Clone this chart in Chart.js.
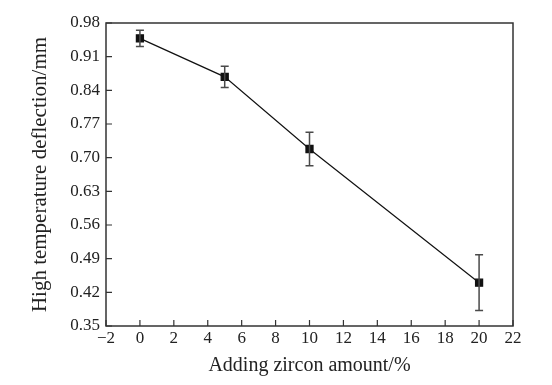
<!DOCTYPE html>
<html>
<head>
<meta charset="utf-8">
<script src="https://cdn.jsdelivr.net/npm/chart.js@4/dist/chart.umd.min.js"></script>
<style>
  html, body { margin: 0; padding: 0; background: #fff; }
  #wrap { width: 552px; height: 385px; }
</style>
</head>
<body>
<div id="wrap"><canvas id="deflectionChart"></canvas></div>
<script>
const zirconAmount = [0, 5, 10, 20];
const deflection = [0.948, 0.868, 0.718, 0.440];
const deflectionErr = [0.017, 0.022, 0.035, 0.058];
const xTicks = [-2, 0, 2, 4, 6, 8, 10, 12, 14, 16, 18, 20, 22];
const yTicks = [0.35, 0.42, 0.49, 0.56, 0.63, 0.70, 0.77, 0.84, 0.91, 0.98];

const serif = 'Liberation Serif';

// error bars, inward ticks and the frame box
const framePlugin = {
    id: 'framePlugin',
    afterDatasetsDraw(chart) {
        const { ctx, chartArea, scales } = chart;
        const x = scales.x, y = scales.y;
        ctx.save();
        // error bars
        ctx.strokeStyle = '#4a4a4a';
        ctx.lineWidth = 1.5;
        zirconAmount.forEach((v, i) => {
            const px = x.getPixelForValue(v);
            const top = y.getPixelForValue(deflection[i] + deflectionErr[i]);
            const bot = y.getPixelForValue(deflection[i] - deflectionErr[i]);
            ctx.beginPath();
            ctx.moveTo(px, top); ctx.lineTo(px, bot);
            ctx.moveTo(px - 4, top); ctx.lineTo(px + 4, top);
            ctx.moveTo(px - 4, bot); ctx.lineTo(px + 4, bot);
            ctx.stroke();
        });
        // frame
        ctx.strokeStyle = '#333';
        ctx.lineWidth = 1.5;
        ctx.strokeRect(chartArea.left, chartArea.top,
            chartArea.right - chartArea.left, chartArea.bottom - chartArea.top);
        // inward ticks
        ctx.lineWidth = 1.2;
        ctx.beginPath();
        x.ticks.forEach((t, i) => {
            const px = x.getPixelForTick(i);
            ctx.moveTo(px, chartArea.bottom);
            ctx.lineTo(px, chartArea.bottom - 6);
        });
        y.ticks.forEach((t, i) => {
            const py = y.getPixelForTick(i);
            ctx.moveTo(chartArea.left, py);
            ctx.lineTo(chartArea.left + 6, py);
        });
        ctx.stroke();
        ctx.restore();
    }
};

const ctx = document.getElementById('deflectionChart').getContext('2d');
const deflectionChart = new Chart(ctx, {
    type: 'line',
    data: {
        datasets: [
            {
                label: 'deflection',
                data: zirconAmount.map((v, i) => ({ x: v, y: deflection[i] })),
                borderColor: '#111',
                backgroundColor: '#111',
                borderWidth: 1.2,
                pointStyle: 'rect',
                pointRadius: 5,
                pointHoverRadius: 5,
                tension: 0
            }
        ]
    },
    options: {
        responsive: true,
        maintainAspectRatio: false,
        animation: false,
        events: [],
        layout: {
            padding: { top: 23, right: 39, left: 0, bottom: 0 }
        },
        scales: {
            x: {
                type: 'linear',
                min: -2,
                max: 22,
                afterBuildTicks: (scale) => { scale.ticks = xTicks.map(v => ({ value: v })); },
                afterFit: (scale) => { scale.height = 59; },
                grid: { display: false, drawTicks: false },
                border: { display: false },
                title: {
                    display: true,
                    text: 'Adding zircon amount/%',
                    color: '#222',
                    padding: { top: 0, bottom: 7 },
                    font: { size: 20, family: serif }
                },
                ticks: {
                    color: '#222',
                    padding: 2,
                    maxRotation: 0,
                    autoSkip: false,
                    callback: (v) => String(v).replace('-', '\u2212'),
                    font: { size: 17, family: serif }
                }
            },
            y: {
                min: 0.35,
                max: 0.98,
                afterBuildTicks: (scale) => { scale.ticks = yTicks.map(v => ({ value: v })); },
                afterFit: (scale) => { scale.width = 106; },
                grid: { display: false, drawTicks: false },
                border: { display: false },
                title: {
                    display: true,
                    text: 'High temperature deflection/mm',
                    color: '#222',
                    padding: { top: 28, bottom: 0 },
                    font: { size: 21, family: serif }
                },
                ticks: {
                    color: '#222',
                    padding: 6,
                    autoSkip: false,
                    callback: (v) => Number(v).toFixed(2),
                    font: { size: 17, family: serif }
                }
            }
        },
        plugins: {
            legend: { display: false },
            tooltip: { enabled: false }
        }
    },
    plugins: [framePlugin]
});
</script>
</body>
</html>
